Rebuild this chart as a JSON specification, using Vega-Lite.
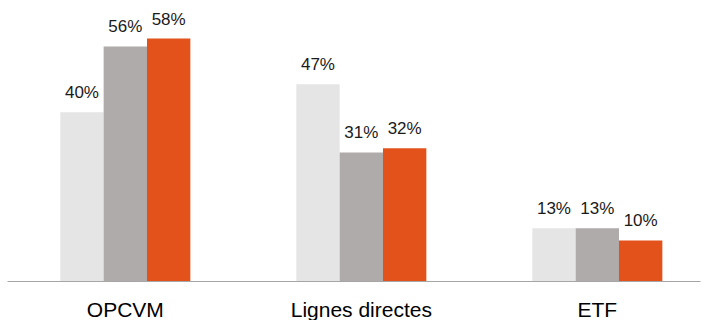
{
  "$schema": "https://vega.github.io/schema/vega-lite/v6.json",
  "width": 693,
  "height": 281,
  "autosize": "none",
  "padding": {"left": 7, "top": 0, "right": 7, "bottom": 39},
  "config": {"view": {"stroke": null}, "font": "Liberation Sans"},
  "data": {"values": [
    {"cat": "OPCVM", "serie": "A", "value": 40.3, "label": "40%"},
    {"cat": "OPCVM", "serie": "B", "value": 56.0, "label": "56%"},
    {"cat": "OPCVM", "serie": "C", "value": 57.9, "label": "58%"},
    {"cat": "Lignes directes", "serie": "A", "value": 47.0, "label": "47%"},
    {"cat": "Lignes directes", "serie": "B", "value": 30.7, "label": "31%"},
    {"cat": "Lignes directes", "serie": "C", "value": 31.7, "label": "32%"},
    {"cat": "ETF", "serie": "A", "value": 12.6, "label": "13%"},
    {"cat": "ETF", "serie": "B", "value": 12.6, "label": "13%"},
    {"cat": "ETF", "serie": "C", "value": 9.7, "label": "10%"}
  ]},
  "encoding": {
    "x": {
      "field": "cat", "type": "nominal", "sort": null,
      "scale": {"paddingInner": 0.449, "paddingOuter": 0.1927, "align": 0.586},
      "axis": {
        "title": null, "ticks": false, "tickSize": 0, "labelAngle": 0,
        "labelPadding": 35, "labelBaseline": "alphabetic",
        "labelFontSize": 21, "labelColor": "#000000", "labelFont": "Liberation Sans",
        "domainColor": "#a6a6a6", "domainWidth": 1.2, "grid": false
      }
    },
    "xOffset": {"field": "serie", "type": "nominal", "sort": null, "scale": {"paddingInner": 0, "paddingOuter": 0}},
    "y": {"field": "value", "type": "quantitative", "scale": {"domain": [0, 67.1], "nice": false}, "axis": null}
  },
  "layer": [
    {
      "mark": {"type": "bar"},
      "encoding": {
        "color": {
          "field": "serie", "type": "nominal", "legend": null,
          "scale": {"domain": ["A", "B", "C"], "range": ["#e5e5e5", "#afabaa", "#e2521a"]}
        }
      }
    },
    {
      "mark": {"type": "text", "baseline": "alphabetic", "dy": -14, "fontSize": 17, "font": "Liberation Sans", "color": "#1a1a1a"},
      "encoding": {"text": {"field": "label", "type": "nominal"}}
    }
  ]
}
